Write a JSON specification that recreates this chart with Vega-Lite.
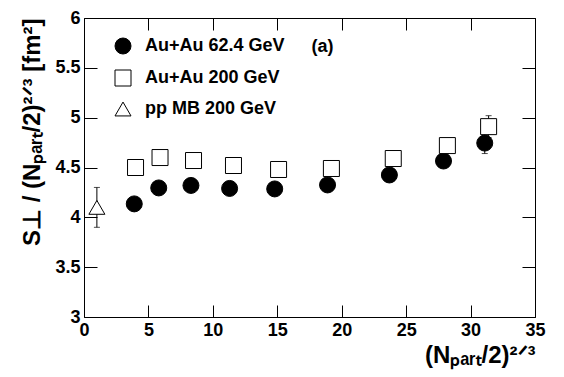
{
  "$schema": "https://vega.github.io/schema/vega-lite/v6.json",
  "width": 451,
  "height": 299,
  "autosize": {"type": "none"},
  "padding": {"left": 84, "top": 18, "right": 29, "bottom": 60},
  "background": "white",
  "config": {
    "font": "Liberation Sans",
    "view": {"stroke": "black", "strokeWidth": 1},
    "axis": {
      "domain": false,
      "labelFlush": false,
      "labelColor": "black",
      "labelFont": "Liberation Sans",
      "labelFontSize": 18,
      "labelFontWeight": "bold",
      "titleColor": "black",
      "titleFont": "Liberation Sans",
      "titleFontSize": 24,
      "titleFontWeight": "bold"
    }
  },
  "datasets": {
    "pts": [
      {"series": "Au+Au 62.4 GeV", "npart": 3.9, "s": 4.135},
      {"series": "Au+Au 62.4 GeV", "npart": 5.8, "s": 4.295},
      {"series": "Au+Au 62.4 GeV", "npart": 8.3, "s": 4.32},
      {"series": "Au+Au 62.4 GeV", "npart": 11.3, "s": 4.29},
      {"series": "Au+Au 62.4 GeV", "npart": 14.8, "s": 4.285},
      {"series": "Au+Au 62.4 GeV", "npart": 18.9, "s": 4.325},
      {"series": "Au+Au 62.4 GeV", "npart": 23.7, "s": 4.425},
      {"series": "Au+Au 62.4 GeV", "npart": 27.9, "s": 4.565},
      {"series": "Au+Au 62.4 GeV", "npart": 31.1, "s": 4.745, "lo": 4.64, "hi": 4.845},
      {"series": "Au+Au 200 GeV", "npart": 4.0, "s": 4.5},
      {"series": "Au+Au 200 GeV", "npart": 5.9, "s": 4.6},
      {"series": "Au+Au 200 GeV", "npart": 8.5, "s": 4.57},
      {"series": "Au+Au 200 GeV", "npart": 11.6, "s": 4.52},
      {"series": "Au+Au 200 GeV", "npart": 15.1, "s": 4.48},
      {"series": "Au+Au 200 GeV", "npart": 19.2, "s": 4.49},
      {"series": "Au+Au 200 GeV", "npart": 24.0, "s": 4.59},
      {"series": "Au+Au 200 GeV", "npart": 28.2, "s": 4.72},
      {"series": "Au+Au 200 GeV", "npart": 31.4, "s": 4.91, "lo": 4.8, "hi": 5.02},
      {"series": "pp MB 200 GeV", "npart": 1.0, "s": 4.1, "lo": 3.9, "hi": 4.3}
    ],
    "note": [{"label": "(a)", "npart": 18.5, "s": 5.71}]
  },
  "layer": [
    {
      "data": {"name": "pts"},
      "transform": [{"filter": "isValid(datum.lo)"}],
      "mark": {"type": "rule", "color": "black", "strokeWidth": 1},
      "encoding": {
        "x": {"field": "npart", "type": "quantitative", "scale": {"domain": [0, 35], "nice": false, "zero": false},
          "axis": {"orient": "bottom", "values": [0, 5, 10, 15, 20, 25, 30, 35],
            "ticks": false, "labelPadding": 4, "format": "~g", "labelFlush": false,
            "grid": true, "gridColor": "black", "gridWidth": 1, "gridOpacity": 1, "gridDash": [12, 275, 12, 1000],
            "title": "(Nₚₐᵣₜ/2)²ᐟ³", "titleAnchor": "end", "titlePadding": 4}},
        "y": {"field": "lo", "type": "quantitative", "scale": {"domain": [3, 6], "nice": false, "zero": false},
          "axis": {"orient": "left", "values": [3, 3.5, 4, 4.5, 5, 5.5, 6],
            "ticks": false, "labelPadding": 4, "format": "~g", "labelFlush": false,
            "grid": true, "gridColor": "black", "gridWidth": 1, "gridOpacity": 1, "gridDash": [13, 425, 13, 1000],
            "title": "S⊥ / (Nₚₐᵣₜ/2)²ᐟ³ [fm²]", "titleAnchor": "end", "titlePadding": 10}},
        "y2": {"field": "hi"}
      }
    },
    {
      "data": {"name": "pts"},
      "transform": [{"filter": "isValid(datum.lo)"}],
      "mark": {"type": "tick", "color": "black", "orient": "horizontal", "size": 6, "thickness": 1},
      "encoding": {
        "x": {"field": "npart", "type": "quantitative"},
        "y": {"field": "lo", "type": "quantitative"}
      }
    },
    {
      "data": {"name": "pts"},
      "transform": [{"filter": "isValid(datum.lo)"}],
      "mark": {"type": "tick", "color": "black", "orient": "horizontal", "size": 6, "thickness": 1},
      "encoding": {
        "x": {"field": "npart", "type": "quantitative"},
        "y": {"field": "hi", "type": "quantitative"}
      }
    },
    {
      "data": {"name": "pts"},
      "mark": {"type": "point", "strokeWidth": 1, "opacity": 1, "filled": true, "size": 256},
      "encoding": {
        "x": {"field": "npart", "type": "quantitative"},
        "y": {"field": "s", "type": "quantitative"},
        "shape": {"field": "series", "type": "nominal",
          "scale": {"domain": ["Au+Au 62.4 GeV", "Au+Au 200 GeV", "pp MB 200 GeV"], "range": ["circle", "square", "triangle-up"]},
          "legend": {"title": null, "orient": "none", "legendX": 30, "legendY": 19, "padding": 0, "symbolSize": 256, "symbolStrokeWidth": 1,
            "labelFont": "Liberation Sans", "labelFontSize": 18, "labelFontWeight": "bold", "labelColor": "black", "labelOffset": 13, "rowPadding": 12, "labelLimit": 300}},
        "fill": {"field": "series", "type": "nominal",
          "scale": {"domain": ["Au+Au 62.4 GeV", "Au+Au 200 GeV", "pp MB 200 GeV"], "range": ["black", "white", "white"]},
          "legend": {"title": null, "orient": "none", "legendX": 30, "legendY": 19, "padding": 0, "symbolSize": 256, "symbolStrokeWidth": 1,
            "labelFont": "Liberation Sans", "labelFontSize": 18, "labelFontWeight": "bold", "labelColor": "black", "labelOffset": 13, "rowPadding": 12, "labelLimit": 300}},
        "stroke": {"field": "series", "type": "nominal",
          "scale": {"domain": ["Au+Au 62.4 GeV", "Au+Au 200 GeV", "pp MB 200 GeV"], "range": ["black", "black", "black"]},
          "legend": {"title": null, "orient": "none", "legendX": 30, "legendY": 19, "padding": 0, "symbolSize": 256, "symbolStrokeWidth": 1,
            "labelFont": "Liberation Sans", "labelFontSize": 18, "labelFontWeight": "bold", "labelColor": "black", "labelOffset": 13, "rowPadding": 12, "labelLimit": 300}}
      }
    },
    {
      "data": {"name": "note"},
      "mark": {"type": "text", "font": "Liberation Sans", "fontSize": 18, "fontWeight": "bold", "color": "black", "align": "center", "baseline": "middle"},
      "encoding": {
        "x": {"field": "npart", "type": "quantitative"},
        "y": {"field": "s", "type": "quantitative"},
        "text": {"field": "label"}
      }
    }
  ]
}
